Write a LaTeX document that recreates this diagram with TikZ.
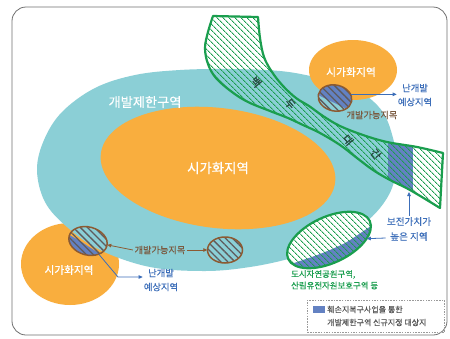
\documentclass[tikz,border=0pt]{standalone}
\usepackage{fontspec}
\setmainfont{Noto Sans CJK KR}[FakeBold=0.35]
\newfontfamily\bandfont{Noto Sans CJK KR}[FakeBold=1]
\usetikzlibrary{patterns.meta,arrows.meta,shapes.geometric}
\definecolor{tealc}{HTML}{8BCFD6}
\definecolor{orng}{HTML}{F9AE3E}
\definecolor{grn}{HTML}{1A9E4E}
\definecolor{bluf}{HTML}{6381C2}
\definecolor{blutxt}{HTML}{3C6EB9}
\definecolor{brn}{HTML}{8C5A32}
\definecolor{brntxt}{HTML}{7A5A40}
\definecolor{hatchb}{HTML}{5E5A5C}
\definecolor{framec}{HTML}{707070}
\definecolor{bandtxt}{HTML}{264A40}
\definecolor{legc}{HTML}{9A9A9A}
\definecolor{legtxt}{HTML}{555555}
\begin{document}
\begin{tikzpicture}[x=1pt,y=-1pt,
  gline/.style={draw=grn,line width=2.2pt,line join=round},
  ghatch/.style={pattern={Lines[angle=-45,distance=4pt,line width=1pt]},pattern color=grn},
  bhatch/.style={pattern={Lines[angle=-45,distance=5pt,line width=1.3pt]},pattern color=hatchb},
  bline/.style={draw=brn,line width=1.5pt},
  tip/.style={-{Triangle[length=4pt,width=3.5pt]}},
  barrow/.style={draw=brn,line width=0.8pt,tip},
  uarrow/.style={draw=blutxt,line width=0.8pt,tip},
  ghost/.style={ellipse,inner sep=0,draw=none},
  wt/.style={text=white,inner sep=0},
  btxt/.style={text=blutxt,align=center,inner sep=1pt,font=\fontsize{9.3}{14}\selectfont},
  brtxt/.style={text=brntxt,inner sep=1.5pt,font=\fontsize{9.2}{12}\selectfont},
  bandl/.style={text=bandtxt,inner sep=0,font=\bandfont\fontsize{10.5}{12}\selectfont}
]
\useasboundingbox (0,0) rectangle (450,338);
\fill[white] (0,0) rectangle (450,338);
\draw[framec,line width=0.8pt,rounded corners=14pt] (12,7) rectangle (447,335);

% ellipses of land use
\fill[orng] (70,264) ellipse [x radius=49, y radius=41];
\fill[tealc] plot[smooth cycle,tension=0.6] coordinates {(37,170) (44,140) (62,112) (95,88) (135,75) (180,70) (230,69) (280,71) (315,77) (345,85) (368,97) (384,114) (393,138) (397,163) (392,188) (380,208) (362,225) (330,245) (292,258) (250,267) (205,271) (150,267) (100,250) (67,227) (45,202)};
\fill[orng] (218,168) ellipse [x radius=118, y radius=60, rotate=-7];
\fill[orng] (353,70) ellipse [x radius=44, y radius=30];

\node[wt,font=\fontsize{13.2}{15}\selectfont] (gb) at (145,102) {개발제한구역};
\node[wt,font=\fontsize{13.4}{15}\selectfont] (cu) at (218,168) {시가화지역};
\node[wt,font=\fontsize{10.8}{12}\selectfont] (tu) at (351,72) {시가화지역};
\node[wt,font=\fontsize{10.6}{12}\selectfont] (lu) at (69,270) {시가화지역};

% Baekdudaegan band
\def\bandpath{(213,16) -- plot[smooth,tension=0.6] coordinates {(258,17) (260,38) (264,57) (272,72) (283,86) (296,98) (309,106) (323,116) (340,126) (363,135) (387,142) (417,147) (443,153)} -- (440,208) -- plot[smooth,tension=0.6] coordinates {(440,208) (410,190) (390,180) (373,170) (357,158) (340,145) (320,133) (303,125) (288,118) (270,111) (248,102) (232,92) (216,78) (208,64) (205,48) (208,32) (213,16)} -- cycle}
\begin{scope}
\clip \bandpath;
\fill[bluf] (388,100) rectangle (413,220);
\end{scope}
\path[ghatch] \bandpath;
\draw[gline] \bandpath;
\node[bandl,rotate=-50] (bk1) at (256,82) {백};
\node[bandl,rotate=-50] (bk2) at (290,104) {두};
\node[bandl,rotate=-50] (bk3) at (348,140) {대};
\node[bandl,rotate=-50] (bk4) at (376,154) {간};
\coordinate (bp) at (408,192);

% green ellipse (park / protected area)
\def\gellipse{(329,240) ellipse [x radius=45, y radius=23, rotate=25]}
\fill[white] \gellipse;
\begin{scope}
\clip \gellipse;
\fill[bluf] (270,290) -- plot[smooth] coordinates {(280,268) (297,262) (320,254) (345,243) (368,228) (380,220)} -- (390,290) -- cycle;
\end{scope}
\path[ghatch] \gellipse;
\draw[gline] \gellipse;
\node[ghost,minimum width=90pt,minimum height=46pt,rotate=25] (ge) at (329,240) {};

% brown ellipses
\begin{scope}
\clip (88,241) ellipse [x radius=19.5, y radius=14, rotate=-15];
\fill[bluf] (55,228) -- plot[smooth] coordinates {(64,232) (80,241) (97,252) (106,258)} -- (106,268) -- (55,268) -- cycle;
\end{scope}
\path[bhatch] (88,241) ellipse [x radius=19.5, y radius=14, rotate=-15];
\draw[bline] (88,241) ellipse [x radius=19.5, y radius=14, rotate=-15];
\node[ghost,minimum width=39pt,minimum height=28pt,rotate=-15] (e1) at (88,241) {};

\begin{scope}
\clip (335,98) ellipse [x radius=17, y radius=13, rotate=-12];
\fill[bluf] (310,80) -- (310,93) -- (318,95) -- (349,110) -- (362,112) -- (362,80) -- cycle;
\end{scope}
\path[bhatch] (335,98) ellipse [x radius=17, y radius=13, rotate=-12];
\draw[bline] (335,98) ellipse [x radius=17, y radius=13, rotate=-12];
\node[ghost,minimum width=34pt,minimum height=26pt,rotate=-12] (e2) at (335,98) {};

\path[bhatch] (225,250) ellipse [x radius=17.5, y radius=13];
\draw[bline] (225,250) ellipse [x radius=17.5, y radius=13];
\node[ghost,minimum width=35pt,minimum height=26pt] (e3) at (225,250) {};

% labels and connectors
\node[brtxt] (lab1) at (160,250) {개발가능지목};
\draw[barrow] (lab1.west) -- (e1);
\draw[barrow] (lab1.east) -- (e3);
\node[brtxt] (lab2) at (372,115) {개발가능지목};

\node[btxt] (nb1) at (161,280) {난개발\\예상지역};
\coordinate (k1) at (118,277);
\draw[uarrow] (e1.south east) -- (k1) -- (k1 -| nb1.west);

\node[btxt] (nb2) at (415,95) {난개발\\예상지역};
\draw[uarrow] (e2.25) -- (e2.25 -| nb2.west);

\node[btxt,font=\fontsize{9.6}{15}\selectfont] (bj) at (409,229) {보전가치가\\높은 지역};
\draw[uarrow] (bj.north) -- (bj.north |- bp);
\draw[uarrow] ([yshift=-9pt]bj.west) -- (ge);

\node[text=grn,anchor=north west,align=left,inner sep=0,font=\fontsize{8.4}{11.5}\selectfont] (gl) at (291,270) {도시자연공원구역,\\산림유전자원보호구역 등};

% legend
\node[draw=legc,dash pattern=on 1.5pt off 1.2pt,line width=0.6pt,anchor=north west,minimum width=137pt,minimum height=32pt,inner sep=0] (leg) at (307,300) {};
\fill[bluf] (313,305.5) rectangle (325,312.5);
\node[text=legtxt,anchor=west,align=left,inner sep=0,font=\fontsize{8}{13}\selectfont] (lt) at (327,316) {훼손지복구사업을 통한\\개발제한구역 신규지정 대상지};
\end{tikzpicture}
\end{document}
